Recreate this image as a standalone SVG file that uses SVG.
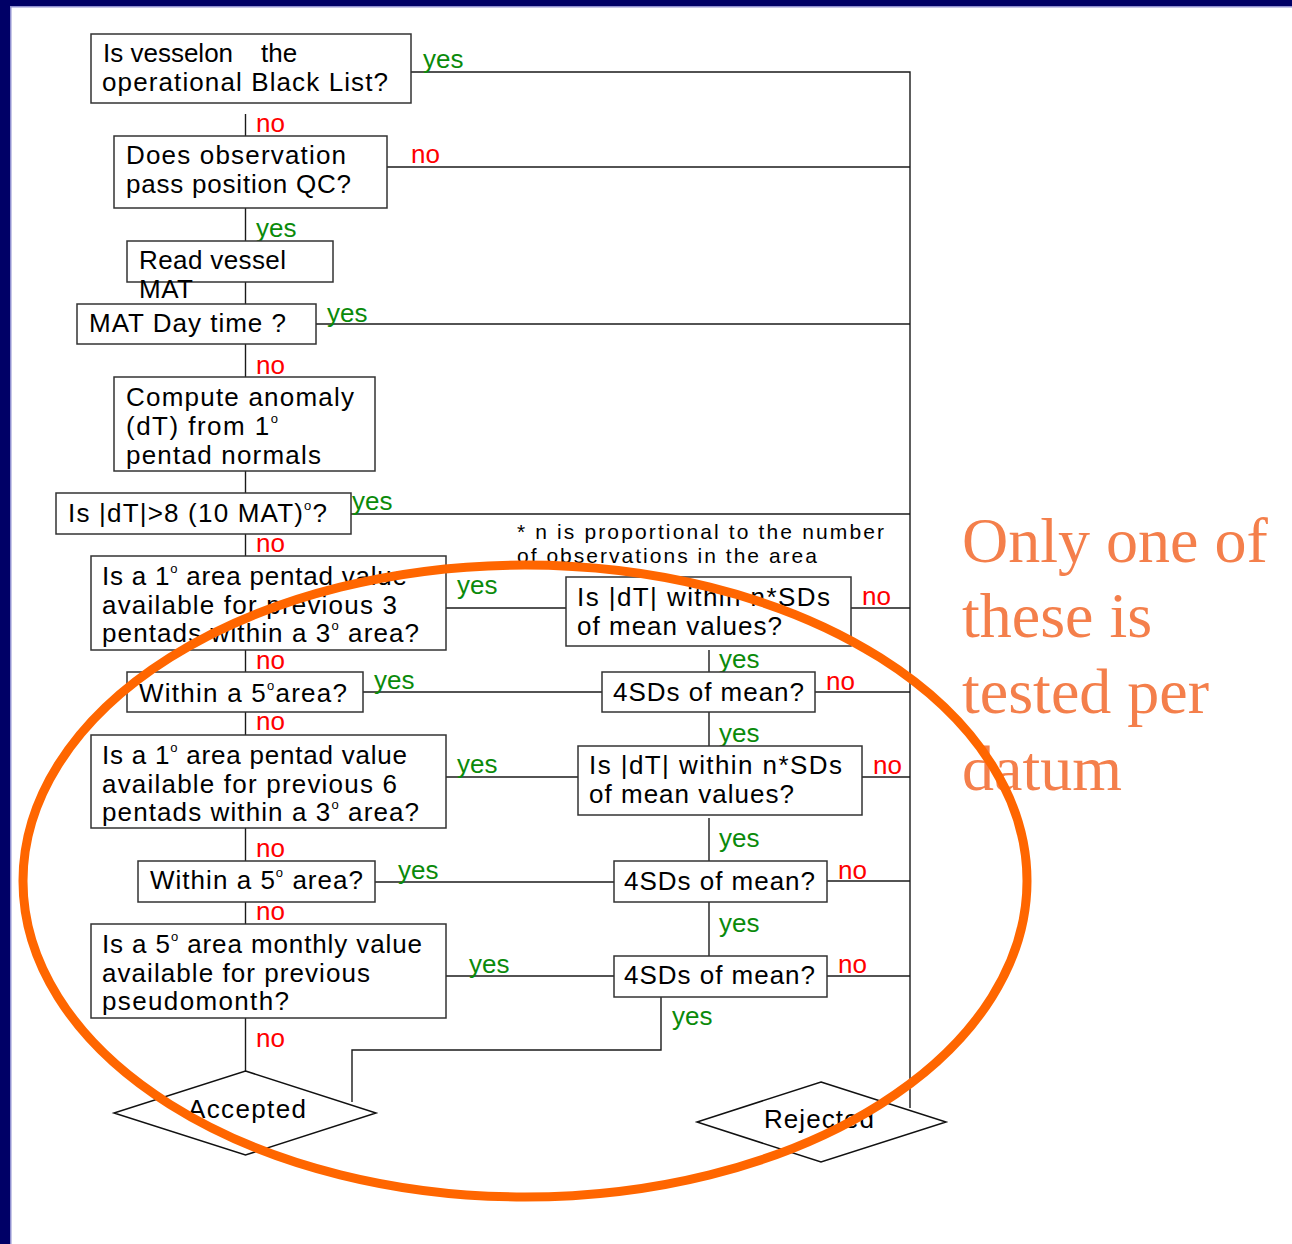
<svg xmlns="http://www.w3.org/2000/svg" width="1292" height="1244" viewBox="0 0 1292 1244">
<style>
.bg{fill:#fff}
.box{fill:#fff;stroke:#333;stroke-width:1.5}
.dia{fill:#fff;stroke:#111;stroke-width:1.5}
.t{font-family:"Liberation Sans",Arial,sans-serif;font-size:26px;fill:#000}
.n{font-family:"Liberation Sans",Arial,sans-serif;font-size:21px;fill:#000}
.yes{font-family:"Liberation Sans",Arial,sans-serif;font-size:26px;fill:#0a8a0a}
.no{font-family:"Liberation Sans",Arial,sans-serif;font-size:26px;fill:#ff0000}
.c{stroke:#1a1a1a;stroke-width:1.4;fill:none}
.sup{font-size:13px}
.note{font-family:"Liberation Serif","Times New Roman",serif;font-size:64px;fill:#f47f4b}
</style>
<rect class="bg" x="0" y="0" width="1292" height="1244"/>
<g id="frame">
<rect x="0" y="0" width="1292" height="6" fill="#000066"/>
<rect x="0" y="0" width="10" height="1244" fill="#000066"/>
<rect x="10" y="6" width="1282" height="1.5" fill="#9090d0"/>
<rect x="10" y="6" width="1.5" height="1238" fill="#9090d0"/>
</g>
<g id="connectors">
<path class="c" d="M411 72H910V1108"/>
<path class="c" d="M245.5 114V136"/>
<path class="c" d="M387 167H910"/>
<path class="c" d="M245.5 208V241"/>
<path class="c" d="M245.5 282V304"/>
<path class="c" d="M316 324H910"/>
<path class="c" d="M245.5 344V377"/>
<path class="c" d="M245.5 471V493"/>
<path class="c" d="M340 514H910"/>
<path class="c" d="M245.5 534V556"/>
<path class="c" d="M446 608H566"/>
<path class="c" d="M851 608H910"/>
<path class="c" d="M709 650V672"/>
<path class="c" d="M245.5 650V672"/>
<path class="c" d="M363 692H602"/>
<path class="c" d="M815 692H910"/>
<path class="c" d="M245.5 712V735"/>
<path class="c" d="M709 712V746"/>
<path class="c" d="M446 777H578"/>
<path class="c" d="M862 777H910"/>
<path class="c" d="M709 818V861"/>
<path class="c" d="M245.5 828V861"/>
<path class="c" d="M375 882H614"/>
<path class="c" d="M827 881H910"/>
<path class="c" d="M245.5 902V924"/>
<path class="c" d="M709 902V956"/>
<path class="c" d="M446 976H614"/>
<path class="c" d="M827 976H910"/>
<path class="c" d="M661 997V1050H352V1102"/>
<path class="c" d="M245.5 1018V1071"/>
</g>
<g id="labels">
<text class="yes" x="423" y="68">yes</text>
<text class="no" x="256" y="132">no</text>
<text class="no" x="411" y="163">no</text>
<text class="yes" x="256" y="237">yes</text>
<text class="yes" x="327" y="322">yes</text>
<text class="no" x="256" y="374">no</text>
<text class="yes" x="352" y="510">yes</text>
<text class="no" x="256" y="552">no</text>
<text class="yes" x="457" y="594">yes</text>
<text class="no" x="862" y="605">no</text>
<text class="yes" x="719" y="668">yes</text>
<text class="no" x="256" y="669">no</text>
<text class="yes" x="374" y="689">yes</text>
<text class="no" x="826" y="690">no</text>
<text class="no" x="256" y="730">no</text>
<text class="yes" x="719" y="742">yes</text>
<text class="yes" x="457" y="773">yes</text>
<text class="no" x="873" y="774">no</text>
<text class="yes" x="719" y="847">yes</text>
<text class="no" x="256" y="857">no</text>
<text class="yes" x="398" y="879">yes</text>
<text class="no" x="838" y="879">no</text>
<text class="no" x="256" y="920">no</text>
<text class="yes" x="719" y="932">yes</text>
<text class="yes" x="469" y="973">yes</text>
<text class="no" x="838" y="973">no</text>
<text class="yes" x="672" y="1025">yes</text>
<text class="no" x="256" y="1047">no</text>
</g>
<g id="n1">
<rect class="box" x="91" y="34" width="320" height="69"/>
<text class="t" y="62"><tspan x="103">Is vesselon</tspan><tspan x="261">the</tspan></text>
<text class="t" x="102" y="91" textLength="286" lengthAdjust="spacing">operational Black List?</text>
</g>
<g id="n2">
<rect class="box" x="114" y="136" width="273" height="72"/>
<text class="t" x="126" y="164" textLength="220" lengthAdjust="spacing">Does observation</text>
<text class="t" x="126" y="193" textLength="225" lengthAdjust="spacing">pass position QC?</text>
</g>
<g id="n3">
<rect class="box" x="127" y="241" width="206" height="41"/>
<text class="t" x="139" y="269" textLength="147" lengthAdjust="spacing">Read vessel</text>
<text class="t" x="139" y="298" textLength="54" lengthAdjust="spacing">MAT</text>
</g>
<g id="n4">
<rect class="box" x="77" y="304" width="239" height="40"/>
<text class="t" x="89" y="332" textLength="197" lengthAdjust="spacing">MAT Day time ?</text>
</g>
<g id="n5">
<rect class="box" x="114" y="377" width="261" height="94"/>
<text class="t" x="126" y="406" textLength="228" lengthAdjust="spacing">Compute anomaly</text>
<text class="t" x="126" y="435" textLength="152" lengthAdjust="spacing">(dT) from 1<tspan class="sup" dy="-12">o</tspan></text>
<text class="t" x="126" y="464" textLength="195" lengthAdjust="spacing">pentad normals</text>
</g>
<g id="n6">
<rect class="box" x="56" y="493" width="295" height="41"/>
<text class="t" x="68" y="522" textLength="259" lengthAdjust="spacing">Is |dT|&gt;8 (10 MAT)<tspan class="sup" dy="-12">o</tspan><tspan dy="12">?</tspan></text>
</g>
<g id="n7">
<rect class="box" x="91" y="556" width="355" height="94"/>
<text class="t" x="102" y="585" textLength="305" lengthAdjust="spacing">Is a 1<tspan class="sup" dy="-12">o</tspan><tspan dy="12"> area pentad value</tspan></text>
<text class="t" x="102" y="614" textLength="295" lengthAdjust="spacing">available for previous 3</text>
<text class="t" x="102" y="642" textLength="317" lengthAdjust="spacing">pentads within a 3<tspan class="sup" dy="-12">o</tspan><tspan dy="12"> area?</tspan></text>
</g>
<g id="note">
<text class="n" x="517" y="539" textLength="367" lengthAdjust="spacing">* n is proportional to the number</text>
<text class="n" x="517" y="563" textLength="300" lengthAdjust="spacing">of observations in the area</text>
</g>
<g id="n8">
<rect class="box" x="566" y="577" width="285" height="69"/>
<text class="t" x="577" y="606" textLength="253" lengthAdjust="spacing">Is |dT| within  n*SDs</text>
<text class="t" x="577" y="635" textLength="205" lengthAdjust="spacing">of mean values?</text>
</g>
<g id="n9">
<rect class="box" x="602" y="672" width="213" height="40"/>
<text class="t" x="613" y="701" textLength="191" lengthAdjust="spacing">4SDs of mean?</text>
</g>
<g id="n10">
<rect class="box" x="127" y="672" width="236" height="40"/>
<text class="t" x="139" y="702" textLength="208" lengthAdjust="spacing">Within a 5<tspan class="sup" dy="-12">o</tspan><tspan dy="12">area?</tspan></text>
</g>
<g id="n11">
<rect class="box" x="91" y="735" width="355" height="93"/>
<text class="t" x="102" y="764" textLength="305" lengthAdjust="spacing">Is a 1<tspan class="sup" dy="-12">o</tspan><tspan dy="12"> area pentad value</tspan></text>
<text class="t" x="102" y="793" textLength="295" lengthAdjust="spacing">available for previous 6</text>
<text class="t" x="102" y="821" textLength="317" lengthAdjust="spacing">pentads within a 3<tspan class="sup" dy="-12">o</tspan><tspan dy="12"> area?</tspan></text>
</g>
<g id="n12">
<rect class="box" x="578" y="746" width="284" height="69"/>
<text class="t" x="589" y="774" textLength="253" lengthAdjust="spacing">Is |dT| within  n*SDs</text>
<text class="t" x="589" y="803" textLength="205" lengthAdjust="spacing">of mean values?</text>
</g>
<g id="n13">
<rect class="box" x="614" y="861" width="213" height="41"/>
<text class="t" x="624" y="890" textLength="191" lengthAdjust="spacing">4SDs of mean?</text>
</g>
<g id="n14">
<rect class="box" x="138" y="861" width="237" height="41"/>
<text class="t" x="150" y="889" textLength="213" lengthAdjust="spacing">Within a 5<tspan class="sup" dy="-12">o</tspan><tspan dy="12"> area?</tspan></text>
</g>
<g id="n15">
<rect class="box" x="91" y="924" width="355" height="94"/>
<text class="t" x="102" y="953" textLength="320" lengthAdjust="spacing">Is a 5<tspan class="sup" dy="-12">o</tspan><tspan dy="12"> area monthly value</tspan></text>
<text class="t" x="102" y="982" textLength="268" lengthAdjust="spacing">available for previous</text>
<text class="t" x="102" y="1010" textLength="187" lengthAdjust="spacing">pseudomonth?</text>
</g>
<g id="n16">
<rect class="box" x="614" y="956" width="213" height="41"/>
<text class="t" x="624" y="984" textLength="191" lengthAdjust="spacing">4SDs of mean?</text>
</g>
<g id="accepted">
<polygon class="dia" points="245.5,1071 376,1113 245.5,1155 114,1113"/>
<text class="t" x="188" y="1118" textLength="118" lengthAdjust="spacing">Accepted</text>
</g>
<g id="rejected">
<polygon class="dia" points="821,1082 946,1122 821,1162 697,1122"/>
<text class="t" x="764" y="1128" textLength="110" lengthAdjust="spacing">Rejected</text>
</g>
<g id="annotation">
<text class="note" x="962" y="562">Only one of</text>
<text class="note" x="962" y="637">these is</text>
<text class="note" x="962" y="713">tested per</text>
<text class="note" x="962" y="790">datum</text>
<ellipse cx="525" cy="881" rx="502" ry="316" fill="none" stroke="#ff6600" stroke-width="9"/>
</g>
</svg>
